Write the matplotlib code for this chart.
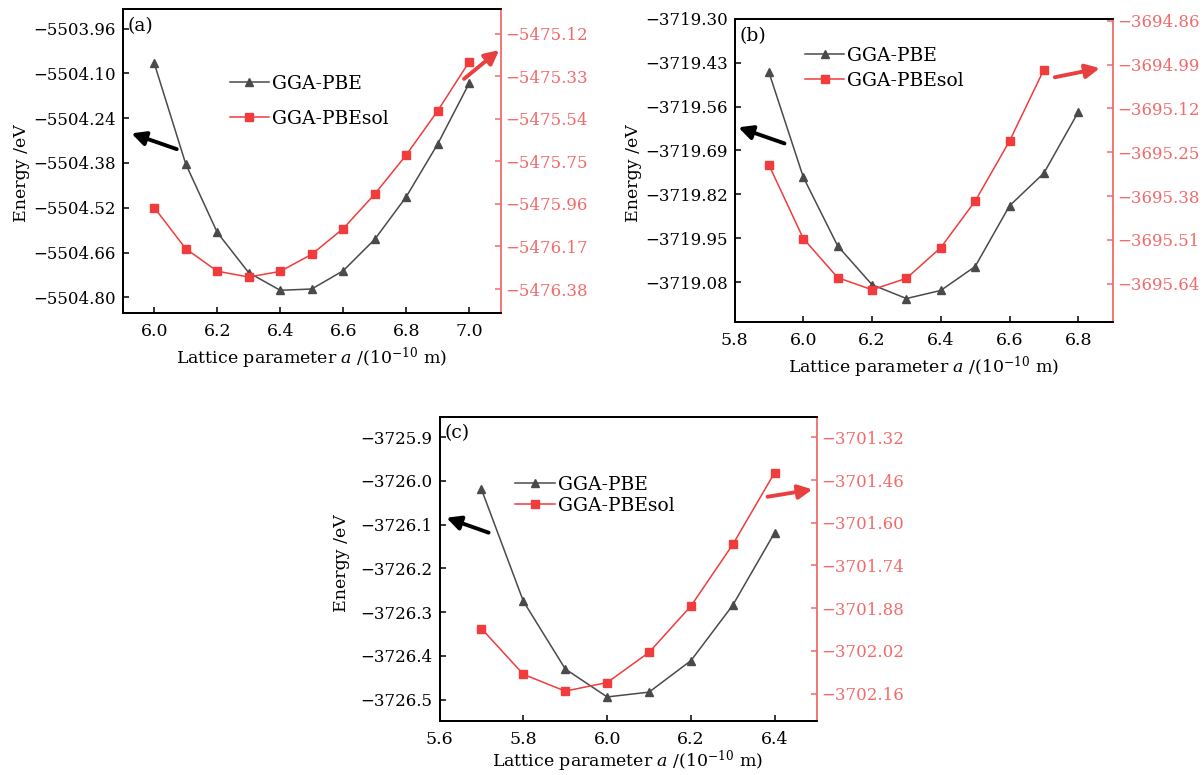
import numpy as np
import matplotlib
matplotlib.use('Agg')
import matplotlib.pyplot as plt

plt.rcParams['font.family'] = ['DejaVu Serif']
plt.rcParams['mathtext.fontset'] = 'custom'
plt.rcParams['mathtext.rm'] = 'DejaVu Serif'
plt.rcParams['mathtext.it'] = 'DejaVu Serif:italic'
plt.rcParams['font.size'] = 12.5

BLACK = '#4a4a4a'
RED = '#f03c3c'
RED_AXIS = '#f26a6a'

# (a) lattice parameter scan
a_lat = [6.0, 6.1, 6.2, 6.3, 6.4, 6.5, 6.6, 6.7, 6.8, 6.9, 7.0]
a_pbe = [-5504.068, -5504.383, -5504.597, -5504.723, -5504.778, -5504.774,
         -5504.717, -5504.619, -5504.486, -5504.321, -5504.131]
a_pbesol = [-5475.978, -5476.181, -5476.292, -5476.321, -5476.293, -5476.209,
            -5476.082, -5475.912, -5475.719, -5475.501, -5475.259]
a_left_ticks = [-5503.96, -5504.10, -5504.24, -5504.38, -5504.52, -5504.66, -5504.80]
a_left_labels = ['−5503.96', '−5504.10', '−5504.24', '−5504.38', '−5504.52', '−5504.66', '−5504.80']
a_right_ticks = [-5475.12, -5475.33, -5475.54, -5475.75, -5475.96, -5476.17, -5476.38]
a_right_labels = ['−5475.12', '−5475.33', '−5475.54', '−5475.75', '−5475.96', '−5476.17', '−5476.38']
a_xticks = [6.0, 6.2, 6.4, 6.6, 6.8, 7.0]

# (b)
b_lat_pbe = [5.9, 6.0, 6.1, 6.2, 6.3, 6.4, 6.5, 6.6, 6.7, 6.8]
b_pbe = [-3719.458, -3719.769, -3719.973, -3720.088, -3720.129, -3720.105,
         -3720.034, -3719.854, -3719.757, -3719.576]
b_lat_sol = [5.9, 6.0, 6.1, 6.2, 6.3, 6.4, 6.5, 6.6, 6.7]
b_pbesol = [-3695.288, -3695.506, -3695.622, -3695.658, -3695.624, -3695.533,
            -3695.395, -3695.217, -3695.005]
b_left_ticks = [-3719.30, -3719.43, -3719.56, -3719.69, -3719.82, -3719.95, -3720.08]
b_left_labels = ['−3719.30', '−3719.43', '−3719.56', '−3719.69', '−3719.82', '−3719.95', '−3719.08']
b_right_ticks = [-3694.86, -3694.99, -3695.12, -3695.25, -3695.38, -3695.51, -3695.64]
b_right_labels = ['−3694.86', '−3694.99', '−3695.12', '−3695.25', '−3695.38', '−3695.51', '−3695.64']
b_xticks = [5.8, 6.0, 6.2, 6.4, 6.6, 6.8]

# (c)
c_lat = [5.7, 5.8, 5.9, 6.0, 6.1, 6.2, 6.3, 6.4]
c_pbe = [-3726.019, -3726.275, -3726.430, -3726.494, -3726.483, -3726.411,
         -3726.284, -3726.118]
c_pbesol = [-3701.947, -3702.097, -3702.152, -3702.124, -3702.025, -3701.873,
            -3701.671, -3701.435]
c_left_ticks = [-3725.9, -3726.0, -3726.1, -3726.2, -3726.3, -3726.4, -3726.5]
c_left_labels = ['−3725.9', '−3726.0', '−3726.1', '−3726.2', '−3726.3', '−3726.4', '−3726.5']
c_right_ticks = [-3701.32, -3701.46, -3701.60, -3701.74, -3701.88, -3702.02, -3702.16]
c_right_labels = ['−3701.32', '−3701.46', '−3701.60', '−3701.74', '−3701.88', '−3702.02', '−3702.16']
c_xticks = [5.6, 5.8, 6.0, 6.2, 6.4]


def panel(rect, tag, x1, y1, x2, y2, xlim, ylim1, ylim2, xticks,
          lticks, llabels, rticks, rlabels, leg_xy, leg_space,
          black_arrow, red_arrow, ylabel_xy, xlabel_pad=4):
    """
    draws one E(a) panel with PBE on the left axis and PBEsol on the right axis.
    """
    ax = fig.add_axes(rect)
    ax2 = ax.twinx()

    l1, = ax.plot(x1, y1, '-^', color=BLACK, lw=1.1, ms=6, label='GGA-PBE')
    l2, = ax2.plot(x2, y2, '-s', color=RED, lw=1.1, ms=5.5, label='GGA-PBEsol')

    ax.set_xlim(*xlim)
    ax.set_ylim(*ylim1)
    ax2.set_ylim(*ylim2)
    ax.set_xticks(xticks, ['%.1f' % t for t in xticks])
    ax.set_yticks(lticks, llabels)
    ax2.set_yticks(rticks, rlabels)

    for s in ['left', 'bottom', 'top']:
        ax.spines[s].set_linewidth(1.3)
        ax2.spines[s].set_linewidth(1.3)
    ax2.spines['right'].set_color(RED_AXIS)
    ax2.spines['right'].set_linewidth(1.3)
    ax.spines['right'].set_visible(False)

    ax.tick_params(direction='in', length=4, width=1.1, pad=5, labelsize=12)
    ax.tick_params(axis='x', pad=7, labelsize=12.5)
    ax2.tick_params(direction='in', length=4, width=1.1, pad=3, labelsize=12,
                    color=RED_AXIS, labelcolor=RED_AXIS)

    ax.set_xlabel(r'Lattice parameter $a$ /(10$^{-10}$ m)', labelpad=xlabel_pad)
    ax.set_ylabel('Energy /eV')
    ax.yaxis.set_label_coords(*ylabel_xy)

    ax.text(0.014, 0.945, tag, transform=ax.transAxes, va='center', ha='left',
            fontsize=13.5)

    ax2.legend([l1, l2], ['GGA-PBE', 'GGA-PBEsol'], loc='upper left',
               bbox_to_anchor=leg_xy, frameon=False, handlelength=2.1,
               handletextpad=0.15, labelspacing=leg_space, borderpad=0,
               borderaxespad=0, fontsize=13.5)

    ax2.annotate('', xy=black_arrow[1], xytext=black_arrow[0],
                 xycoords='axes fraction', textcoords='axes fraction',
                 arrowprops=dict(arrowstyle='-|>', color='black', lw=2.8,
                                 mutation_scale=21, shrinkA=0, shrinkB=0))
    ax2.annotate('', xy=red_arrow[1], xytext=red_arrow[0],
                 xycoords='axes fraction', textcoords='axes fraction',
                 arrowprops=dict(arrowstyle='-|>', color='#e8403f', lw=2.8,
                                 mutation_scale=21, shrinkA=0, shrinkB=0))
    return ax, ax2


fig = plt.figure(figsize=(12.03, 7.75), dpi=100)

panel([0.102, 0.5957, 0.3142, 0.3923], '(a)', a_lat, a_pbe, a_lat, a_pbesol,
      (5.9, 7.1), (-5504.85, -5503.90), (-5476.50, -5475.00), a_xticks,
      a_left_ticks, a_left_labels, a_right_ticks, a_right_labels,
      (0.283, 0.785), 0.91,
      ((0.143, 0.540), (0.023, 0.592)), ((0.903, 0.771), (0.996, 0.866)),
      (-0.245, 0.46))

panel([0.6106, 0.5839, 0.3143, 0.3916], '(b)', b_lat_pbe, b_pbe, b_lat_sol, b_pbesol,
      (5.8, 6.9), (-3720.20, -3719.30), (-3695.755, -3694.855), b_xticks,
      b_left_ticks, b_left_labels, b_right_ticks, b_right_labels,
      (0.186, 0.908), 0.38,
      ((0.132, 0.590), (0.010, 0.643)), ((0.847, 0.808), (0.966, 0.838)),
      (-0.246, 0.491))

panel([0.3654, 0.0697, 0.3134, 0.3926], '(c)', c_lat, c_pbe, c_lat, c_pbesol,
      (5.6, 6.5), (-3726.549, -3725.853), (-3702.25, -3701.252), c_xticks,
      c_left_ticks, c_left_labels, c_right_ticks, c_right_labels,
      (0.201, 0.806), 0.17,
      ((0.130, 0.619), (0.018, 0.668)), ((0.870, 0.737), (0.989, 0.761)),
      (-0.238, 0.52), xlabel_pad=0.5)

fig.savefig('out.png', dpi=100)
